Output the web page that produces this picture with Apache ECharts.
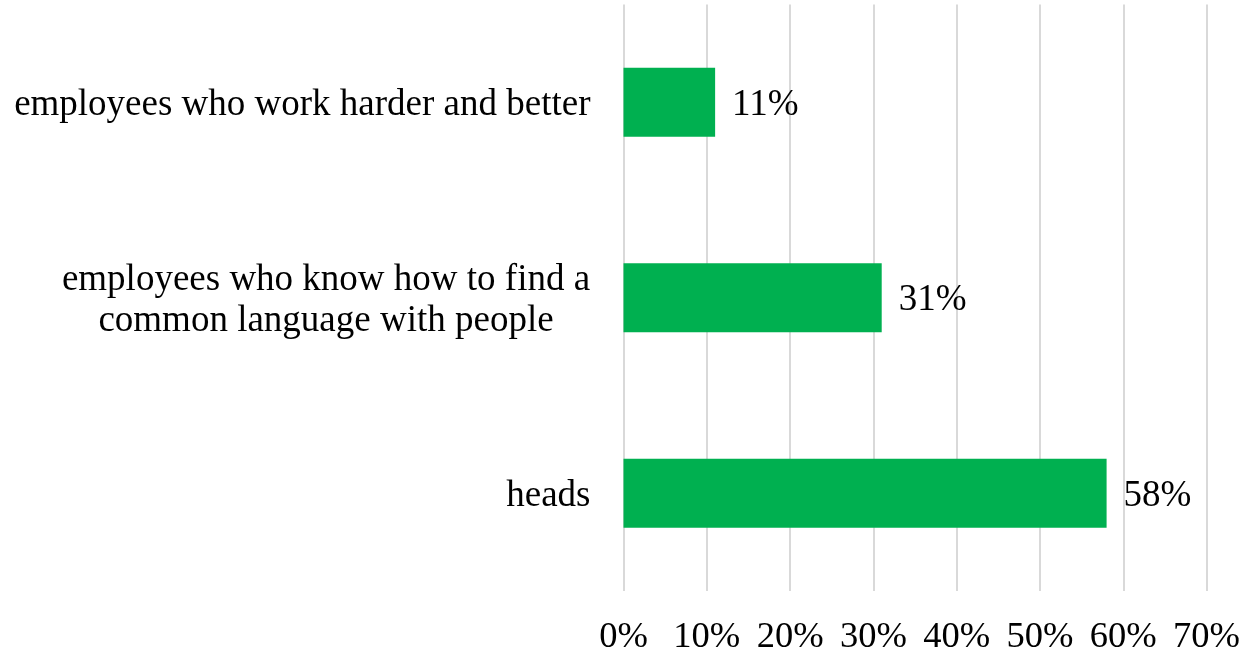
<!DOCTYPE html>
<html>
<head>
<meta charset="utf-8">
<script src="https://cdn.jsdelivr.net/npm/echarts@6/dist/echarts.min.js"></script>
<style>
  html, body { margin: 0; padding: 0; background: #fff; }
  #chart { width: 1243px; height: 656px; }
</style>
</head>
<body>
<div id="chart"></div>
<script>
// Survey answers, top to bottom
const categories = [
  'employees who work harder and better',
  'employees who know how to find a\ncommon language with people',
  'heads'
];
const shares = [11, 31, 58];            // percent of respondents
const tickValues = [0, 10, 20, 30, 40, 50, 60, 70];

const FONT = '"Liberation Serif", "Times New Roman", serif';
const FONT_SIZE = 37;
const TICK_FONT_SIZE = 36.5;

// measure text so multi-line category labels can be centred line by line
const ctx = document.createElement('canvas').getContext('2d');
ctx.font = FONT_SIZE + 'px ' + FONT;
function measure(s) { return Math.ceil(ctx.measureText(s).width); }

const blockWidth = Math.max.apply(null, categories
  .filter(c => c.indexOf('\n') >= 0)
  .map(c => Math.max.apply(null, c.split('\n').map(measure))));

const chart = echarts.init(document.getElementById('chart'));
chart.setOption({
  backgroundColor: '#ffffff',
  animation: false,
  grid: { left: 623.5, right: 33, top: 4.5, bottom: 65, containLabel: false },
  xAxis: {
    type: 'value',
    min: tickValues[0],
    max: tickValues[tickValues.length - 1],
    interval: 10,
    axisLine: { show: false },
    axisTick: { show: false },
    splitLine: { show: true, lineStyle: { color: '#d9d9d9', width: 2 } },
    axisLabel: {
      formatter: '{value}%',
      fontFamily: FONT,
      fontSize: TICK_FONT_SIZE,
      color: '#000',
      margin: 28
    }
  },
  yAxis: {
    type: 'category',
    inverse: true,
    data: categories,
    axisLine: { show: false },
    axisTick: { show: false },
    axisLabel: {
      fontFamily: FONT,
      fontSize: FONT_SIZE,
      color: '#000',
      margin: 33,
      lineHeight: 41,
      padding: [6, 0, 0, 0],
      formatter: function (value) {
        const lines = value.split('\n');
        if (lines.length === 1) return value;
        return lines.map(l => '{c|' + l + '}').join('\n');
      },
      rich: {
        c: {
          fontFamily: FONT,
          fontSize: FONT_SIZE,
          color: '#000',
          lineHeight: 41,
          width: blockWidth,
          align: 'center'
        }
      }
    }
  },
  series: [{
    type: 'bar',
    data: shares,
    barCategoryGap: '64.7%',
    itemStyle: { color: '#00b050' },
    label: {
      show: true,
      position: 'right',
      distance: 17,
      offset: [0, 3],
      formatter: '{c}%',
      fontFamily: FONT,
      fontSize: FONT_SIZE,
      color: '#000'
    }
  }]
});
</script>
</body>
</html>
